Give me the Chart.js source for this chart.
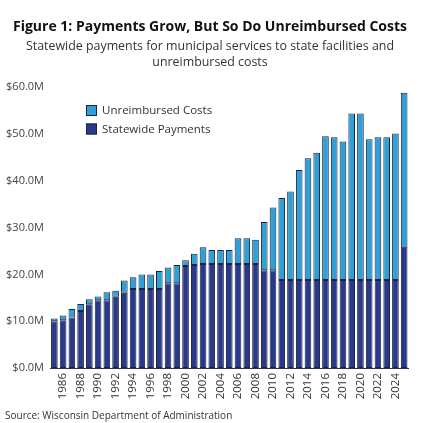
<!DOCTYPE html>
<html>
<head>
<meta charset="utf-8">
<script src="https://cdn.jsdelivr.net/npm/chart.js@4.4.0/dist/chart.umd.min.js"></script>
<style>
  html, body { margin: 0; padding: 0; background: #fff; }
  #wrap { position: relative; width: 423px; height: 423px; }
  #c { position: absolute; left: 0; top: 0; }
  #source { position: absolute; left: 5px; top: 408px; font: 10px "Open Sans", sans-serif; color: #333; white-space: nowrap; }
</style>
</head>
<body>
<div id="wrap">
  <canvas id="c" width="423" height="423"></canvas>
  <div id="source">Source: Wisconsin Department of Administration</div>
</div>
<script>
const years = [1985,1986,1987,1988,1989,1990,1991,1992,1993,1994,1995,1996,1997,1998,1999,
  2000,2001,2002,2003,2004,2005,2006,2007,2008,2009,2010,2011,2012,2013,2014,2015,2016,2017,
  2018,2019,2020,2021,2022,2023,2024,2025];
const statewidePayments = [10.0,10.2,10.8,12.2,13.6,14.5,14.5,15.2,16.1,16.9,16.9,16.9,16.9,18.1,18.1,
  21.8,22.0,22.2,22.2,22.2,22.2,22.2,22.2,22.2,20.9,20.9,18.8,18.8,18.8,18.8,18.8,18.8,18.8,
  18.8,18.8,18.8,18.8,18.8,18.8,18.8,25.9];
const unreimbursedCosts = [0.6,1.0,1.8,1.5,1.1,0.8,1.7,1.3,2.6,2.5,3.1,3.1,3.8,3.4,3.9,
  1.2,2.4,3.6,3.0,3.0,3.0,5.5,5.5,5.2,10.3,13.4,17.5,18.9,23.5,26.0,27.2,30.7,30.5,
  29.6,35.6,35.6,30.1,30.5,30.5,31.3,32.9];
const yTicks = [0,10,20,30,40,50,60];

const FONT = '"Open Sans", sans-serif';
const BORDER = '#1c2340';

const legendPlugin = {
  id: 'insideLegend',
  afterDraw(chart) {
    const ctx = chart.ctx;
    const items = [chart.data.datasets[1], chart.data.datasets[0]];
    ctx.save();
    ctx.font = '11.5px ' + FONT;
    ctx.textBaseline = 'middle';
    items.forEach((ds, i) => {
      const y = 105 + i * 18.5;
      ctx.fillStyle = ds.backgroundColor;
      ctx.fillRect(86, y, 11, 11);
      ctx.strokeStyle = BORDER;
      ctx.lineWidth = 1;
      ctx.strokeRect(86.5, y + 0.5, 10, 10);
      ctx.fillStyle = '#333';
      ctx.fillText(ds.label, 102, y + 6);
    });
    ctx.restore();
  }
};

new Chart(document.getElementById('c'), {
  type: 'bar',
  data: {
    labels: years.map(String),
    datasets: [
      { label: 'Statewide Payments', data: statewidePayments, backgroundColor: '#293a8c',
        borderColor: BORDER, borderWidth: 1, borderSkipped: false },
      { label: 'Unreimbursed Costs', data: unreimbursedCosts, backgroundColor: '#2ea0d6',
        borderColor: BORDER, borderWidth: 1, borderSkipped: false }
    ]
  },
  options: {
    responsive: false,
    animation: false,
    layout: { padding: { left: 0, right: 3, top: 0, bottom: 0 } },
    datasets: { bar: { categoryPercentage: 1.0, barPercentage: 0.76 } },
    plugins: {
      legend: { display: false },
      tooltip: { enabled: false },
      title: {
        display: true,
        text: 'Figure 1: Payments Grow, But So Do Unreimbursed Costs',
        font: { family: FONT, size: 14, weight: 'bold', lineHeight: 1.3 },
        color: '#111',
        padding: { top: 18, bottom: 0 }
      },
      subtitle: {
        display: true,
        text: ['Statewide payments for municipal services to state facilities and', 'unreimbursed costs'],
        font: { family: FONT, size: 12.4, lineHeight: 1.29 },
        color: '#333',
        padding: { top: 2, bottom: 17 }
      }
    },
    scales: {
      x: {
        stacked: true,
        grid: { display: false, drawTicks: false },
        border: { display: true, color: '#333', width: 1 },
        ticks: {
          autoSkip: false, minRotation: 90, maxRotation: 90,
          font: { family: FONT, size: 11.5 }, color: '#333', padding: 5,
          callback: function(v, i) { return i % 2 === 1 ? this.getLabelForValue(v) : ''; }
        },
        afterFit(scale) { scale.height = 55; }
      },
      y: {
        stacked: true,
        min: 0, max: 60,
        grid: { display: false, drawTicks: false },
        border: { display: false },
        afterBuildTicks(scale) { scale.ticks = yTicks.map(v => ({ value: v })); },
        ticks: {
          font: { family: FONT, size: 11 }, color: '#444', padding: 6,
          callback: v => '$' + v.toFixed(1) + 'M'
        },
        afterFit(scale) { scale.width = 50; }
      }
    }
  },
  plugins: [legendPlugin]
});
</script>
</body>
</html>
